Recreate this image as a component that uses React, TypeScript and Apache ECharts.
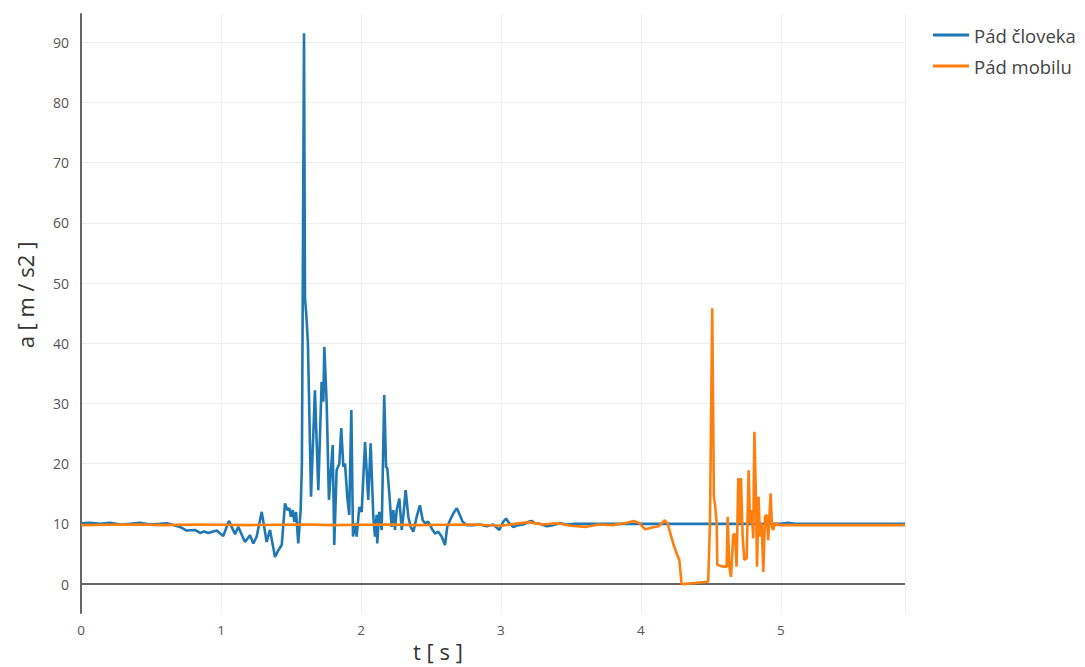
import React, { useEffect, useRef } from "react";
import * as echarts from "echarts";

const seriesNames = ["Pád človeka", "Pád mobilu"];
const yTicks = [0, 10, 20, 30, 40, 50, 60, 70, 80, 90];
const xRange = [0, 5.886];
const yRange = [-4.8, 94.7];

const human: [number, number][] = [
  [0, 10.1], [0.064, 10.2], [0.136, 10.0], [0.207, 10.2], [0.279, 9.9], [0.35, 10.0],
  [0.421, 10.2], [0.493, 9.9], [0.564, 10.0], [0.614, 10.1], [0.707, 9.5], [0.755, 8.9],
  [0.814, 9.0], [0.85, 8.5], [0.879, 8.75], [0.909, 8.5], [0.969, 8.9], [1.016, 8.0],
  [1.057, 10.5], [1.1, 8.3], [1.124, 9.5], [1.171, 7.0], [1.207, 8.1], [1.231, 6.75],
  [1.255, 7.9], [1.291, 12.0], [1.326, 7.0], [1.35, 9.0], [1.386, 4.5], [1.409, 5.6],
  [1.434, 6.5], [1.457, 13.4], [1.474, 12.3], [1.488, 12.6], [1.5, 11.2], [1.512, 12.3],
  [1.524, 10.35], [1.536, 12.0], [1.552, 6.75], [1.569, 12.3], [1.578, 20.0], [1.593, 91.5],
  [1.6, 47.5], [1.61, 44.5], [1.621, 40.0], [1.643, 14.5], [1.671, 32.2], [1.695, 15.6],
  [1.719, 33.6], [1.731, 30.3], [1.738, 39.4], [1.755, 30.0], [1.771, 14.0], [1.798, 23.1],
  [1.809, 6.5], [1.826, 18.9], [1.845, 20.0], [1.859, 25.9], [1.874, 19.5], [1.886, 20.0],
  [1.902, 14.5], [1.916, 11.5], [1.931, 28.9], [1.943, 7.9], [1.957, 10.1], [1.969, 7.9],
  [1.988, 12.8], [2.005, 12.0], [2.029, 23.6], [2.052, 14.0], [2.069, 23.4], [2.088, 11.2],
  [2.1, 7.9], [2.112, 11.5], [2.116, 6.75], [2.131, 12.0], [2.148, 9.0], [2.166, 31.4],
  [2.179, 19.5], [2.188, 19.2], [2.202, 15.1], [2.219, 9.5], [2.231, 12.3], [2.243, 9.0],
  [2.255, 12.3], [2.274, 14.2], [2.291, 9.0], [2.302, 11.2], [2.319, 15.6], [2.338, 11.2],
  [2.355, 9.5], [2.374, 8.7], [2.398, 11.2], [2.421, 13.1], [2.441, 10.6], [2.457, 10.1],
  [2.481, 10.35], [2.505, 9.25], [2.529, 8.4], [2.552, 8.7], [2.576, 7.9], [2.6, 6.5],
  [2.616, 9.5], [2.636, 10.6], [2.659, 11.7], [2.684, 12.6], [2.702, 11.7], [2.726, 10.35],
  [2.755, 9.8], [2.802, 9.8], [2.85, 9.9], [2.898, 9.6], [2.945, 9.9], [2.988, 9.0],
  [3.016, 10.35], [3.036, 10.9], [3.059, 10.1], [3.088, 9.5], [3.124, 9.8], [3.159, 9.9],
  [3.195, 10.35], [3.219, 10.5], [3.243, 10.1], [3.279, 10.0], [3.326, 9.6], [3.374, 9.8],
  [3.421, 10.1], [3.469, 9.9], [3.53, 10.0], [5.0, 10.0], [5.05, 10.2], [5.1, 10.0],
  [5.886, 10.0],
];

const phone: [number, number][] = [
  [0, 9.8], [0.2, 9.85], [0.4, 9.9], [0.6, 9.8], [0.8, 9.9], [1.0, 9.85], [1.2, 9.8],
  [1.4, 9.85], [1.6, 9.9], [1.8, 9.8], [2.0, 9.85], [2.2, 9.9], [2.4, 9.8], [2.6, 9.85],
  [2.8, 9.9], [3.0, 9.7], [3.1, 10.0], [3.2, 10.3], [3.3, 9.9], [3.4, 10.1], [3.5, 9.7],
  [3.6, 9.5], [3.7, 9.9], [3.8, 9.8], [3.9, 10.2], [3.95, 10.5], [3.99, 10.1], [4.03, 9.1],
  [4.08, 9.4], [4.125, 9.6], [4.17, 10.6], [4.19, 10.1], [4.23, 6.75], [4.26, 4.8],
  [4.274, 4.0], [4.29, 0.1], [4.3, 0], [4.48, 0.4], [4.493, 10.1], [4.509, 45.8],
  [4.521, 14.5], [4.531, 12.8], [4.541, 10.1], [4.545, 3.2], [4.588, 2.9], [4.612, 2.9],
  [4.619, 11.2], [4.631, 2.9], [4.643, 1.2], [4.659, 8.1], [4.671, 8.4], [4.683, 2.9],
  [4.695, 17.6], [4.707, 10.1], [4.714, 17.6], [4.726, 8.1], [4.738, 4.0], [4.755, 4.3],
  [4.769, 18.9], [4.779, 10.1], [4.79, 12.3], [4.802, 7.6], [4.81, 25.3], [4.821, 14.5],
  [4.829, 2.9], [4.84, 14.5], [4.85, 7.9], [4.862, 10.1], [4.874, 2.0], [4.886, 11.2],
  [4.898, 11.5], [4.909, 7.3], [4.926, 15.1], [4.936, 9.5], [4.945, 9.0], [4.957, 10.1],
  [4.99, 9.8], [5.886, 9.8],
];

export default function App() {
  const ref = useRef<HTMLDivElement>(null);
  useEffect(() => {
    if (!ref.current) return;
    const chart = echarts.init(ref.current, undefined, { renderer: "svg" });
    const font = "Open Sans";
    chart.setOption({
      animation: false,
      backgroundColor: "#fff",
      textStyle: { fontFamily: font },
      grid: { left: 81, right: 180, top: 14, bottom: 54, containLabel: false },
      legend: {
        orient: "vertical",
        left: 928,
        top: 19,
        itemGap: 9,
        itemWidth: 36,
        itemHeight: 3,
        icon: "rect",
        textStyle: { fontFamily: font, fontSize: 18.5, color: "#444", padding: [0, 0, 0, 0], lineHeight: 22 },
        data: seriesNames,
      },
      xAxis: {
        type: "value",
        min: xRange[0],
        max: xRange[1],
        interval: 1,
        axisLine: { show: false },
        axisTick: { show: false },
        axisLabel: {
          color: "#555",
          fontSize: 13.5,
          fontFamily: font,
          margin: 10,
          showMaxLabel: false,
        },
        splitLine: { show: true, lineStyle: { color: "#eeeeee", width: 1 } },
      },
      yAxis: {
        type: "value",
        min: yRange[0],
        max: yRange[1],
        axisLine: { show: true, onZero: false, lineStyle: { color: "#666", width: 2 } },
        axisTick: { show: false, customValues: yTicks },
        axisLabel: {
          customValues: yTicks,
          color: "#555",
          fontSize: 14,
          fontFamily: font,
          margin: 12,
        },
        splitLine: { show: true, lineStyle: { color: "#eeeeee", width: 1 } },
      },
      graphic: [
        {
          type: "text",
          x: 438,
          y: 651,
          style: {
            text: "t [ s ]",
            fontFamily: font,
            fontSize: 22,
            fill: "#333",
            align: "center",
            verticalAlign: "middle",
          },
        },
        {
          type: "text",
          x: 25,
          y: 295,
          rotation: Math.PI / 2,
          style: {
            text: "a [ m / s2 ]",
            fontFamily: font,
            fontSize: 22,
            fill: "#333",
            align: "center",
            verticalAlign: "middle",
          },
        },
      ],
      series: [
        {
          name: seriesNames[0],
          type: "line",
          data: human,
          symbol: "none",
          lineStyle: { color: "#1f77b4", width: 2.6 },
          itemStyle: { color: "#1f77b4" },
          z: 3,
          markLine: {
            silent: true,
            symbol: "none",
            label: { show: false },
            lineStyle: { color: "#666", width: 2, type: "solid" },
            data: [{ yAxis: 0 }],
            z: 1,
          },
        },
        {
          name: seriesNames[1],
          type: "line",
          data: phone,
          symbol: "none",
          lineStyle: { color: "#ff7f0e", width: 2.6 },
          itemStyle: { color: "#ff7f0e" },
          z: 4,
        },
      ],
    });
    return () => chart.dispose();
  }, []);
  return (
    <div
      ref={ref}
      style={{ position: "fixed", left: 0, top: 0, width: 1085, height: 667 }}
    />
  );
}
